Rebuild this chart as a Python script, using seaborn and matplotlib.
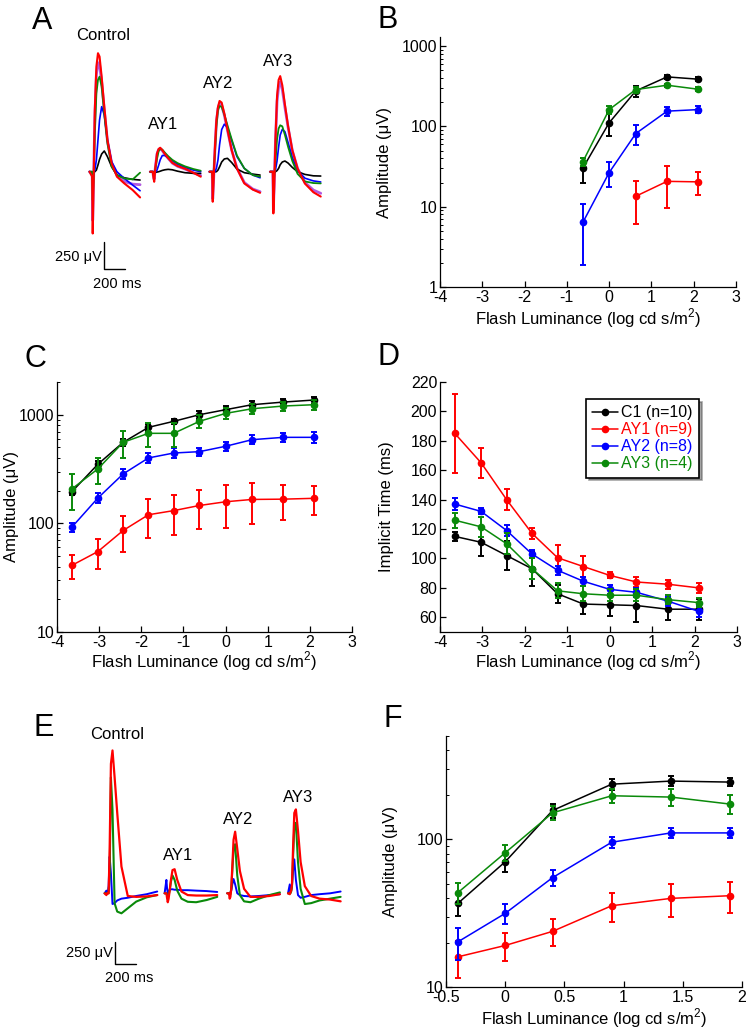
import numpy as np
import matplotlib
matplotlib.use("Agg")
import matplotlib.pyplot as plt
import seaborn as sns
from matplotlib.ticker import LogLocator, FuncFormatter, NullFormatter, MultipleLocator
from matplotlib.lines import Line2D

# ---------------- data ----------------
GROUPS = ["C1 (n=10)", "AY1 (n=9)", "AY2 (n=8)", "AY3 (n=4)"]
COLORS = ["#000000", "#ff0000", "#0000ff", "#0a8a0a"]
PURPLE = "#b25ae0"

# Panel B
X_B = [-0.62, 0.0, 0.63, 1.37, 2.1]
X_B_AY1 = [0.63, 1.37, 2.1]
B_C1 = [30.4, 111, 277, 414, 388]
B_C1_ERR = [10.5, 35, 45, 25, 25]
B_AY1 = [13.5, 20.7, 20.4]
B_AY1_ERR = [7.4, 11, 6.5]
B_AY2 = [6.4, 26.6, 81.5, 155, 162]
B_AY2_ERR = [4.5, 9, 22, 20, 17]
B_AY3 = [36.5, 162, 288, 326, 291]
B_AY3_ERR = [4, 20, 25, 15, 15]

# Panels C and D
X_CD = [-3.65, -3.03, -2.43, -1.83, -1.23, -0.62, 0.0, 0.63, 1.37, 2.1]
C_C1 = [195, 350, 557, 765, 869, 1000, 1112, 1236, 1307, 1365]
C_C1_ERR = [12, 28, 40, 55, 50, 80, 90, 100, 100, 100]
C_AY1 = [41, 55, 86, 120, 131, 146, 158, 166, 167, 170]
C_AY1_ERR = [10, 17, 31, 47, 53, 58, 67, 68, 60, 51]
C_AY2 = [92, 171, 285, 400, 444, 457, 512, 589, 619, 619]
C_AY2_ERR = [8, 18, 30, 40, 45, 40, 50, 55, 60, 70]
C_AY3 = [207, 317, 557, 674, 674, 869, 1028, 1135, 1202, 1236]
C_AY3_ERR = [75, 85, 155, 165, 165, 120, 120, 120, 120, 130]

D_C1 = [115, 111, 102, 93, 76, 69, 68.5, 68, 65.5, 65.5]
D_C1_ERR = [3, 9.5, 10, 12, 6, 6.5, 7.5, 11, 7, 7]
D_AY1 = [185, 165, 140, 117, 100.5, 94.5, 88.5, 84, 82.5, 80]
D_AY1_ERR = [27, 10, 7, 4, 9, 7, 2, 3.5, 3, 3.5]
D_AY2 = [137, 132, 119, 103, 92, 84.5, 79, 77, 71, 64]
D_AY2_ERR = [4, 2, 4, 3, 3, 3, 3, 3, 3, 4]
D_AY3 = [126, 121.5, 110, 93, 78, 76, 75, 75, 72, 70]
D_AY3_ERR = [5, 7, 7, 7, 5, 5, 4, 4, 3, 3]

# Panel F
X_F = [-0.4, 0.0, 0.4, 0.9, 1.4, 1.9]
F_C1 = [36.8, 70.4, 156.6, 236, 247.6, 243.8]
F_C1_ERR = [6.5, 10, 18, 20, 20, 15]
F_AY1 = [16, 19.1, 23.8, 35.5, 39.8, 41.5]
F_AY1_ERR = [4.5, 4, 5, 8, 10, 10]
F_AY2 = [20.2, 31.5, 55, 95.5, 110.4, 110.4]
F_AY2_ERR = [5, 5, 7, 8, 9, 9]
F_AY3 = [43.5, 81, 151, 197, 193, 173]
F_AY3_ERR = [7, 10, 17, 22, 25, 25]

# Panel A traces (time in ms from flash, voltage in uV)
A_T = [-30, -5, 0, 8, 20, 35, 50, 65, 85, 110, 140, 180, 230, 300, 380, 450]
A_LABELS = ["Control", "AY1", "AY2", "AY3"]
A_CTRL_RED = [0, -46, -572, -139, 572, 973, 1097, 1066, 880, 602, 293, 77, -46, -108, -170, -238]
A_CTRL_PUR = [0, -30, -450, -100, 500, 900, 1010, 990, 830, 570, 285, 80, -30, -90, -115, -120]
A_CTRL_GRN = [0, 0, -263, -77, 355, 726, 850, 880, 788, 541, 263, 46, -31, -62, -71, -9]
A_CTRL_BLU = [0, 0, -77, -15, 15, 108, 294, 479, 602, 525, 294, 93, 0, -62, -124, -176]
A_CTRL_BLK = [0, 0, -15, -9, 0, 15, 62, 114, 164, 192, 139, 46, -31, -56, -71, -77]
A_AY1_RED = [0, 0, -46, -93, 46, 170, 210, 222, 200, 164, 127, 83, 53, 28, -9, -46]
A_AY1_PUR = [0, 0, -40, -70, 50, 165, 205, 215, 195, 160, 125, 80, 50, 25, -10, -35]
A_AY1_GRN = [0, 0, -31, -15, 30, 120, 190, 210, 205, 176, 145, 110, 80, 50, 25, 9]
A_AY1_BLU = [0, 0, -9, -9, -3, 15, 60, 110, 150, 150, 130, 100, 70, 40, 15, 0]
A_AY1_BLK = [0, 0, -9, -9, -6, -3, 0, 5, 12, 18, 22, 18, 5, -9, -15, -15]
A_AY2_RED = [0, 0, -278, -100, 200, 479, 600, 655, 640, 540, 390, 200, 30, -108, -165, -195]
A_AY2_PUR = [0, 0, -250, -90, 190, 460, 585, 630, 615, 525, 385, 200, 35, -100, -160, -185]
A_AY2_GRN = [0, 0, -60, 0, 150, 420, 570, 608, 600, 530, 430, 300, 150, 31, -31, -46]
A_AY2_BLU = [0, 0, -15, 0, 0, 31, 110, 250, 390, 440, 410, 290, 140, 31, -31, -56]
A_AY2_BLK = [0, 0, -9, -9, 0, 0, 15, 45, 90, 118, 124, 85, 25, -9, -22, -31]
A_AY3_RED = [0, 0, -386, -150, 300, 700, 850, 885, 800, 620, 420, 200, 30, -110, -190, -230]
A_AY3_PUR = [0, 0, -350, -130, 280, 650, 790, 830, 760, 595, 410, 195, 30, -100, -170, -200]
A_AY3_GRN = [0, 0, -139, -46, 100, 300, 400, 430, 420, 340, 230, 100, -20, -90, -105, -108]
A_AY3_BLU = [0, 0, -15, -9, 15, 100, 230, 340, 392, 370, 270, 130, 10, -60, -85, -95]
A_AY3_BLK = [0, 0, -9, -9, 0, 10, 31, 65, 90, 99, 80, 40, 0, -25, -38, -40]

# Panel E traces
E_T = [-20, -3, 3, 10, 18, 28, 40, 55, 75, 100, 140, 200, 280, 380, 480]
E_CTRL_RED = [0, -20, 0, 0, 0, 500, 1450, 1600, 1300, 900, 300, -30, -40, -35, -20]
E_CTRL_GRN = [0, 0, 0, 0, 0, 200, 1298, 933, -112, -205, -224, -168, -93, -45, -19]
E_CTRL_BLU = [0, 30, 0, 0, 80, 410, 224, -120, -110, -80, -60, -50, -30, -10, 20]
E_AY1_RED = [0, 0, -50, -100, -60, 30, 150, 260, 270, 150, 20, -20, -25, -25, -20]
E_AY1_GRN = [0, 0, -20, -40, -20, 30, 130, 200, 150, 30, -60, -95, -100, -75, -40]
E_AY1_BLU = [0, 150, 60, 0, 20, 40, 45, 45, 40, 40, 35, 35, 30, 25, 15]
E_AY2_RED = [0, 0, -60, -40, 50, 300, 600, 690, 500, 250, 50, -40, -40, -30, -10]
E_AY2_GRN = [0, 0, -20, -10, 50, 250, 500, 550, 200, -20, -90, -100, -60, -20, 10]
E_AY2_BLU = [0, 0, 0, 10, 30, 100, 160, 100, 0, -20, -30, -35, -30, -20, -10]
E_AY3_RED = [0, -10, 10, 30, 100, 500, 900, 940, 700, 350, 80, -30, -60, -70, -90]
E_AY3_GRN = [0, 0, 0, 20, 80, 400, 750, 790, 350, 50, -120, -110, -80, -60, -40]
E_AY3_BLU = [0, 100, 20, 30, 100, 250, 380, 150, -20, -50, -40, -20, -10, 0, 20]

SCALE_UV = 250
SCALE_MS = 200

# ---------------- style ----------------
sns.set_theme(style="ticks")
plt.rcParams["font.family"] = ["Liberation Sans", "DejaVu Sans"]
plt.rcParams["mathtext.fontset"] = "custom"
plt.rcParams["mathtext.rm"] = "Liberation Sans"
plt.rcParams["axes.unicode_minus"] = False
plt.rcParams["axes.edgecolor"] = "black"
plt.rcParams["xtick.color"] = "black"
plt.rcParams["ytick.color"] = "black"
plt.rcParams["text.color"] = "black"
plt.rcParams["axes.labelcolor"] = "black"

W, H = 750, 1030
fig = plt.figure(figsize=(7.5, 10.3), dpi=100)
fig.patch.set_facecolor("white")


def rect(l, t, r, b):
    return [l / W, 1 - b / H, (r - l) / W, (b - t) / H]


XLABEL = r"Flash Luminance (log cd s/m$^{\mathregular{2}}$)"


def style(ax):
    ax.set_facecolor("white")
    for s in ["top", "right"]:
        ax.spines[s].set_visible(False)
    for s in ["left", "bottom"]:
        ax.spines[s].set_linewidth(0.9)
        ax.spines[s].set_color("black")
    ax.tick_params(which="major", direction="in", length=4, width=0.9,
                   labelsize=11.5, pad=2.0)
    ax.tick_params(which="minor", direction="in", length=2.5, width=0.7)
    ax.tick_params(axis="x", which="minor", bottom=False)


def logy(ax, lo, hi):
    ax.set_yscale("log")
    ax.set_ylim(lo, hi)
    ax.yaxis.set_major_locator(LogLocator(base=10, numticks=10))
    ax.yaxis.set_minor_locator(LogLocator(base=10, subs=np.arange(2, 10), numticks=10))
    ax.yaxis.set_major_formatter(FuncFormatter(lambda v, p: f"{v:g}"))
    ax.yaxis.set_minor_formatter(NullFormatter())


def summary(ax, xs, ys, errs, colors):
    for i in range(4):
        x, y, e, c = xs[i], ys[i], errs[i], colors[i]
        z = 3 + i
        ax.errorbar(x, y, yerr=e, fmt="none", ecolor=c, elinewidth=1.4,
                    capsize=2.5, capthick=1.4, zorder=z)
        sns.lineplot(x=x, y=y, ax=ax, color=c, marker="o", markersize=5.5,
                     markeredgewidth=0, linewidth=1.1, legend=False,
                     estimator=None, zorder=z)


def labels(ax, ylab, xy_x, xl_y):
    ax.set_xlabel(XLABEL, fontsize=12)
    ax.set_ylabel(ylab, fontsize=12)
    ax.yaxis.set_label_coords(xy_x, 0.5)
    ax.xaxis.set_label_coords(0.5, xl_y)
    ax.xaxis.label.set_va("center")
    ax.yaxis.label.set_va("center")


# ---------------- Panel B ----------------
axB = fig.add_axes(rect(440, 37, 736, 287))
style(axB)
logy(axB, 1, 1300)
summary(axB, [X_B, X_B_AY1, X_B, X_B], [B_C1, B_AY1, B_AY2, B_AY3],
        [B_C1_ERR, B_AY1_ERR, B_AY2_ERR, B_AY3_ERR], COLORS)
axB.set_xlim(-4, 3)
axB.xaxis.set_major_locator(MultipleLocator(1))
labels(axB, "Amplitude (μV)", -0.186, -0.124)

# ---------------- Panel C ----------------
axC = fig.add_axes(rect(57, 382, 352, 632))
style(axC)
logy(axC, 10, 2000)
summary(axC, [X_CD] * 4, [C_C1, C_AY1, C_AY2, C_AY3],
        [C_C1_ERR, C_AY1_ERR, C_AY2_ERR, C_AY3_ERR], COLORS)
axC.set_xlim(-4, 3)
axC.xaxis.set_major_locator(MultipleLocator(1))
labels(axC, "Amplitude (μV)", -0.155, -0.118)

# ---------------- Panel D ----------------
axD = fig.add_axes(rect(440, 382, 737, 632))
style(axD)
summary(axD, [X_CD] * 4, [D_C1, D_AY1, D_AY2, D_AY3],
        [D_C1_ERR, D_AY1_ERR, D_AY2_ERR, D_AY3_ERR], COLORS)
axD.set_xlim(-4, 3)
axD.set_ylim(50, 220)
axD.xaxis.set_major_locator(MultipleLocator(1))
axD.yaxis.set_major_locator(MultipleLocator(20))
labels(axD, "Implicit Time (ms)", -0.18, -0.118)
handles = [Line2D([], [], color=c, marker="o", markersize=5.5,
                  markeredgewidth=0, linewidth=1.1) for c in COLORS]
leg = axD.legend(handles, GROUPS, loc="upper left",
                 bbox_to_anchor=(586 / W, 1 - 399 / H),
                 bbox_transform=fig.transFigure, fontsize=11.5,
                 labelcolor="linecolor", frameon=True, fancybox=False,
                 shadow={"color": "0.3"}, borderaxespad=0, handlelength=1.6,
                 handletextpad=0.2, borderpad=0.4, labelspacing=0.12)
leg.get_frame().set_edgecolor("black")
leg.get_frame().set_linewidth(1.2)
leg.get_frame().set_alpha(1)

# ---------------- Panel F ----------------
axF = fig.add_axes(rect(446, 736, 742, 987))
style(axF)
logy(axF, 10, 500)
summary(axF, [X_F] * 4, [F_C1, F_AY1, F_AY2, F_AY3],
        [F_C1_ERR, F_AY1_ERR, F_AY2_ERR, F_AY3_ERR], COLORS)
axF.set_xlim(-0.5, 2)
axF.xaxis.set_major_locator(MultipleLocator(0.5))
axF.xaxis.set_major_formatter(FuncFormatter(lambda v, p: f"{v:g}"))
labels(axF, "Amplitude (μV)", -0.187, -0.126)


# ---------------- trace panels ----------------
def trace(ax, t, v, off, color, lw, z):
    sns.lineplot(x=np.array(t) + off, y=v, ax=ax, color=color, linewidth=lw,
                 legend=False, estimator=None, sort=False, zorder=z)


# Panel A
axA = fig.add_axes(rect(80, 30, 340, 290))
axA.axis("off")
axA.set_xlim(-120.7, 2349)
axA.set_ylim(-1095, 1312)
A_OFF = [0, 576, 1140, 1716]
A_SETS = [
    (A_CTRL_BLK, A_CTRL_BLU, A_CTRL_GRN, A_CTRL_PUR, A_CTRL_RED),
    (A_AY1_BLK, A_AY1_BLU, A_AY1_GRN, A_AY1_PUR, A_AY1_RED),
    (A_AY2_BLK, A_AY2_BLU, A_AY2_GRN, A_AY2_PUR, A_AY2_RED),
    (A_AY3_BLK, A_AY3_BLU, A_AY3_GRN, A_AY3_PUR, A_AY3_RED),
]
for off, (bk, bl, gr, pu, rd) in zip(A_OFF, A_SETS):
    trace(axA, A_T, pu, off, PURPLE, 2.0, 2)
    trace(axA, A_T, bk, off, COLORS[0], 1.2, 3)
    trace(axA, A_T, bl, off, COLORS[2], 1.2, 4)
    trace(axA, A_T, gr, off, COLORS[3], 1.3, 5)
    trace(axA, A_T, rd, off, COLORS[1], 1.5, 6)
A_TXT = [(101, 1257), (668, 441), (1190, 821), (1760, 1025)]
for (x, y), s in zip(A_TXT, A_LABELS):
    axA.text(x, y, s, ha="center", va="center", fontsize=12)
sx, sy = 107, -904
axA.plot([sx, sx, sx + SCALE_MS], [sy + SCALE_UV, sy, sy], color="black", lw=1.0)
axA.text(85, -787, f"{SCALE_UV} μV", ha="right", va="center", fontsize=10.5)
axA.text(228, -1040, f"{SCALE_MS} ms", ha="center", va="center", fontsize=10.5)

# Panel E
axE = fig.add_axes(rect(90, 720, 350, 990))
axE.axis("off")
axE.set_xlim(-158.7, 2311)
axE.set_ylim(-1083, 1941)
E_OFF = [0, 570, 1165, 1742]
E_SETS = [
    (E_CTRL_BLU, E_CTRL_GRN, E_CTRL_RED),
    (E_AY1_BLU, E_AY1_GRN, E_AY1_RED),
    (E_AY2_BLU, E_AY2_GRN, E_AY2_RED),
    (E_AY3_BLU, E_AY3_GRN, E_AY3_RED),
]
for off, (bl, gr, rd) in zip(E_OFF, E_SETS):
    trace(axE, E_T, bl, off, COLORS[2], 1.4, 3)
    trace(axE, E_T, gr, off, COLORS[3], 1.5, 4)
    trace(axE, E_T, rd, off, COLORS[1], 1.6, 5)
E_TXT = [(101, 1784), (674, 429), (1250, 832), (1815, 1071)]
for (x, y), s in zip(E_TXT, A_LABELS):
    axE.text(x, y, s, ha="center", va="center", fontsize=12)
sx, sy = 79, -792
axE.plot([sx, sx, sx + SCALE_MS], [sy + SCALE_UV, sy, sy], color="black", lw=1.0)
axE.text(63, -672, f"{SCALE_UV} μV", ha="right", va="center", fontsize=10.5)
axE.text(215, -952, f"{SCALE_MS} ms", ha="center", va="center", fontsize=10.5)

# panel letters
for s, x, yb in [("A", 32, 29), ("B", 377, 28), ("C", 25, 367),
                 ("D", 377, 365), ("E", 33, 736), ("F", 383, 727)]:
    fig.text(x / W, 1 - yb / H, s, ha="left", va="baseline", fontsize=22)

fig.savefig("out.png", dpi=100, facecolor="white")
